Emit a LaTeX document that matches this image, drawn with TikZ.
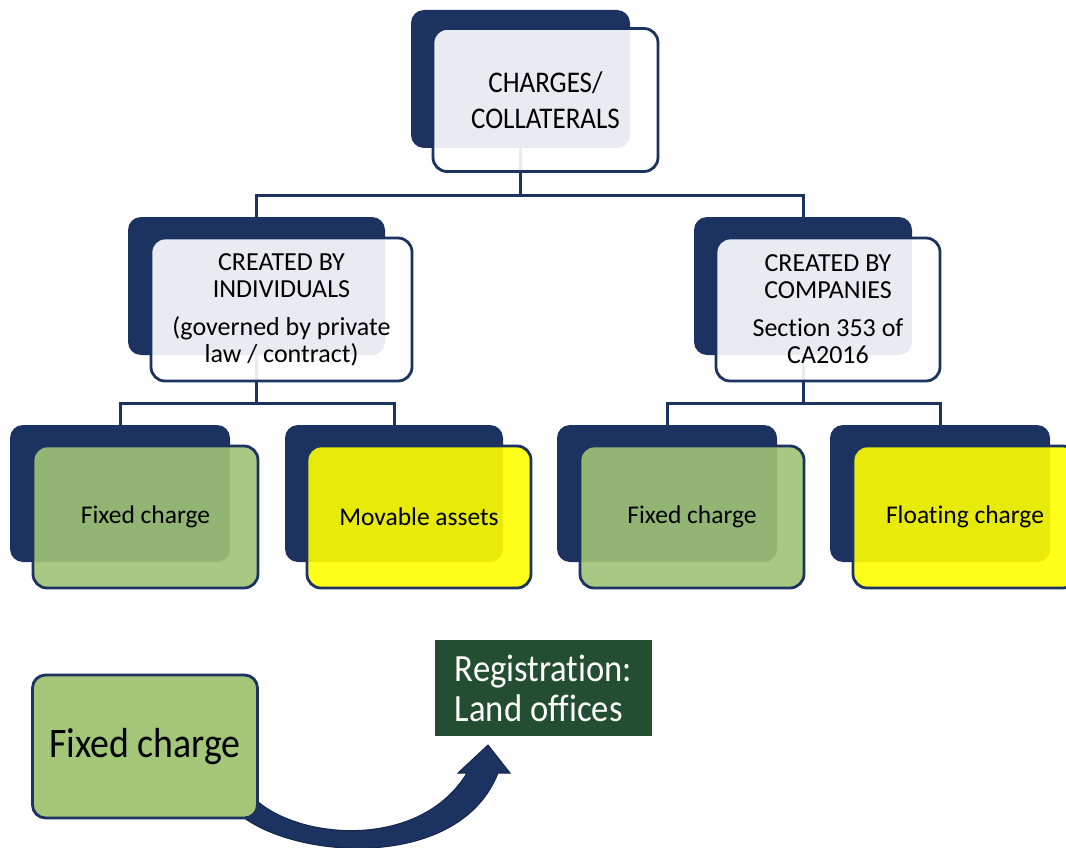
\documentclass[tikz,border=0pt]{standalone}
\usepackage{fontspec}
\setmainfont{Carlito}[Ligatures=NoCommon]
\newfontfamily\condensed[FakeStretch=0.9,Ligatures=NoCommon]{Carlito}
\definecolor{navy}{HTML}{1C3361}
\definecolor{navyd}{HTML}{14264A}
\definecolor{frontgreen}{HTML}{9FC476}
\definecolor{fixgreen}{HTML}{A3C679}
\definecolor{yel}{HTML}{FFFF00}
\definecolor{dkgreen}{HTML}{234E31}
\begin{document}
\begin{tikzpicture}[x=1pt,y=-1pt,
  backbox/.style={fill=navy, rounded corners=13pt, inner sep=0pt},
  lowback/.style={backbox, minimum width=220pt, minimum height=137pt},
  frontbox/.style={draw=navy, line width=2.8pt, rounded corners=14pt, fill opacity=0.9, text opacity=1, inner sep=0pt, align=center},
  midfront/.style={frontbox, fill=white, minimum height=143pt, font=\fontsize{26}{27}\selectfont},
  lowfront/.style={frontbox, minimum width=225pt, minimum height=142pt, font=\fontsize{25.5}{27}\selectfont},
  conn/.style={draw=navy, line width=3pt},
  bigbox/.style={draw=navy, line width=2.8pt, rounded corners=13pt, fill=fixgreen, minimum width=225pt, minimum height=143pt, inner sep=0pt, font=\condensed\fontsize{42}{44}\selectfont},
  regbox/.style={fill=dkgreen, text=white, align=left, minimum width=217pt, minimum height=96pt, inner sep=0pt, font=\condensed\fontsize{38.5}{40}\selectfont}
]
\clip (0,0) rectangle (1066,848);
\fill[white] (0,0) rectangle (1066,848);

% back boxes
\node[backbox, minimum width=219pt, minimum height=138pt] (topB) at (520.5,79) {};
\node[backbox, minimum width=257pt, minimum height=138pt] (midLB) at (256.5,286) {};
\node[backbox, minimum width=218pt, minimum height=138pt] (midRB) at (803,286) {};
\node[lowback] (b1B) at (120,493.5) {};
\node[lowback, minimum width=218pt] (b2B) at (394,493.5) {};
\node[lowback] (b3B) at (667,493.5) {};
\node[lowback] (b4B) at (940,493.5) {};

% connectors
\coordinate (j0) at (520.5,195);
\coordinate (j1) at (256.5,403);
\coordinate (j2) at (803,403);
\draw[conn] (topB.south) -- (j0);
\draw[conn] (midLB.north) |- (j0) -| (midRB.north);
\draw[conn] (midLB.south) -- (j1);
\draw[conn] (b1B.north) |- (j1) -| (b2B.north);
\draw[conn] (midRB.south) -- (j2);
\draw[conn] (b3B.north) |- (j2) -| (b4B.north);

% front boxes
\node[frontbox, fill=white, minimum width=225pt, minimum height=143pt,
      font=\condensed\fontsize{30}{36}\selectfont] (topF) at (545.5,100) {CHARGES/\\COLLATERALS};
\node[midfront, minimum width=261pt] (midLF) at (281.5,309.5)
  {CREATED BY\\INDIVIDUALS\\[11pt](governed by private\\law / contract)};
\node[midfront, minimum width=224pt] (midRF) at (828,309.5)
  {CREATED BY\\COMPANIES\\[11pt]Section 353 of\\CA2016};
\node[lowfront, fill=frontgreen] (b1F) at (145.5,517) {Fixed charge};
\node[lowfront, fill=yel, minimum width=224pt] (b2F) at (419,517) {Movable assets};
\node[lowfront, fill=frontgreen, minimum width=224pt] (b3F) at (692,517) {Fixed charge};
\node[lowfront, fill=yel, minimum width=224pt] (b4F) at (965,517) {Floating charge};

% curved arrow
\filldraw[fill=navy, draw=navyd, line width=1pt]
  (243,817) -- (256,800) .. controls (300,840) and (420,850) .. (467,773)
  -- (458,773) -- (488,745) -- (510,773) -- (498,773)
  .. controls (460,870) and (300,860) .. (243,817) -- cycle;

% bottom boxes
\node[bigbox] (fc) at (145,746.5) {Fixed charge};
\node[regbox] (reg) at (543.5,688) {Registration:\\Land offices};
\end{tikzpicture}
\end{document}
